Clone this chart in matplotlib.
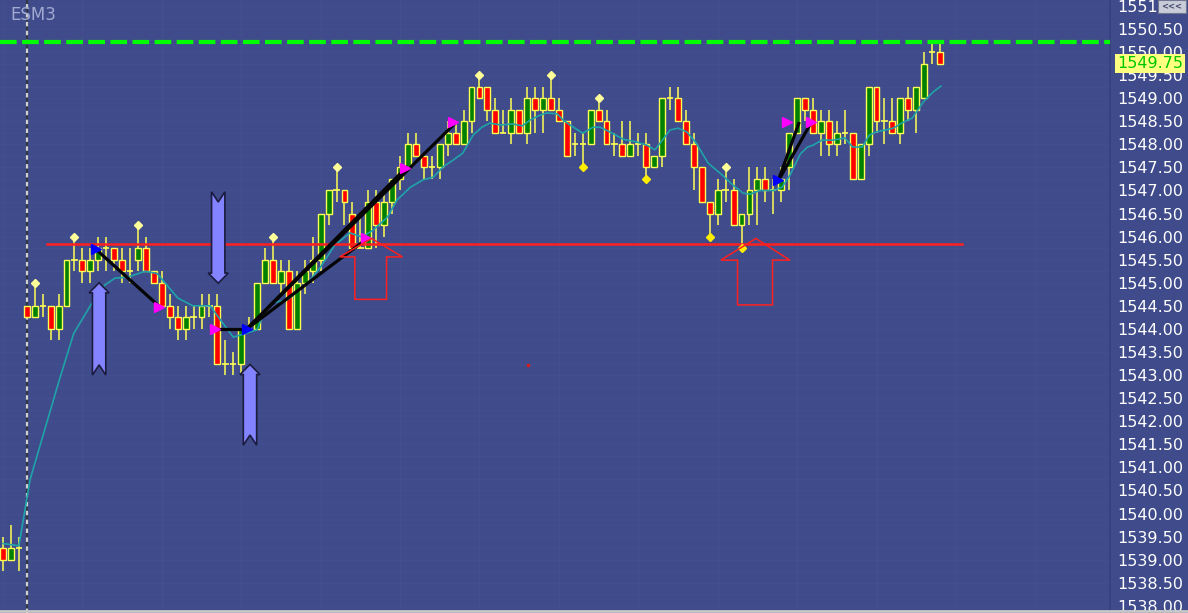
import matplotlib
matplotlib.use('Agg')
import numpy as np
from matplotlib import pyplot as plt
from matplotlib.patches import Polygon, Rectangle
from matplotlib.lines import Line2D

# ---- candle data (ESM3, one bar per slot) ----
opens = [
    1539.25, 1539.0, 1539.25, 1544.5, 1544.25, 1544.5, 1544.5, 1544.0, 1544.5, 1545.5,
    1545.5, 1545.25, 1545.5, 1545.75, 1545.75, 1545.5, 1545.25, 1545.5, 1545.75, 1545.25,
    1545.0, 1544.5, 1544.25, 1544.0, 1544.25, 1544.25, 1544.5, 1544.5, 1543.25, 1543.25,
    1543.25, 1544.0, 1544.0, 1545.0, 1545.5, 1545.0, 1545.25, 1544.0, 1545.0, 1545.25,
    1545.5, 1546.5, 1547.0, 1547.0, 1546.5, 1545.75, 1545.75, 1546.75, 1546.25, 1546.75,
    1547.25, 1547.5, 1548.0, 1547.75, 1547.5, 1547.5, 1548.0, 1548.25, 1548.0, 1548.5,
    1549.25, 1549.25, 1548.75, 1548.25, 1548.25, 1548.75, 1548.25, 1549.0, 1548.75, 1549.0,
    1548.75, 1548.5, 1548.0, 1548.0, 1548.0, 1548.75, 1548.5, 1548.0, 1548.0, 1547.75,
    1548.0, 1548.0, 1547.5, 1547.75, 1549.0, 1549.0, 1548.5, 1548.0, 1547.5, 1546.75,
    1546.5, 1547.0, 1547.0, 1546.25, 1546.5, 1547.0, 1547.25, 1547.0, 1547.0, 1547.5,
    1548.25, 1549.0, 1548.75, 1548.25, 1548.5, 1548.0, 1548.25, 1548.25, 1547.25, 1548.0,
    1549.25, 1548.5, 1548.5, 1548.25, 1549.0, 1548.75, 1549.0, 1550.0, 1550.0]
closes = [
    1539.0, 1539.25, 1539.25, 1544.25, 1544.5, 1544.5, 1544.0, 1544.5, 1545.5, 1545.5,
    1545.25, 1545.5, 1545.75, 1545.75, 1545.5, 1545.25, 1545.25, 1545.75, 1545.25, 1545.0,
    1544.5, 1544.25, 1544.0, 1544.25, 1544.25, 1544.5, 1544.5, 1543.25, 1543.25, 1543.25,
    1544.0, 1544.0, 1545.0, 1545.5, 1545.0, 1545.25, 1544.0, 1545.0, 1545.25, 1545.5,
    1546.5, 1547.0, 1547.0, 1546.75, 1545.75, 1545.75, 1546.75, 1546.25, 1546.75, 1547.25,
    1547.5, 1548.0, 1547.75, 1547.5, 1547.5, 1548.0, 1548.25, 1548.0, 1548.5, 1549.25,
    1549.0, 1548.75, 1548.25, 1548.25, 1548.75, 1548.25, 1549.0, 1548.75, 1549.0, 1548.75,
    1548.5, 1547.75, 1548.0, 1548.0, 1548.75, 1548.5, 1548.0, 1548.0, 1547.75, 1548.0,
    1548.0, 1547.5, 1547.75, 1549.0, 1549.0, 1548.5, 1548.0, 1547.5, 1546.75, 1546.5,
    1547.0, 1547.0, 1546.25, 1546.5, 1547.0, 1547.25, 1547.0, 1547.0, 1547.25, 1548.25,
    1549.0, 1548.75, 1548.25, 1548.5, 1548.0, 1548.25, 1548.25, 1547.25, 1548.0, 1549.25,
    1548.5, 1548.5, 1548.25, 1549.0, 1548.75, 1549.25, 1549.75, 1550.0, 1549.75]
highs = [
    1539.5, 1539.75, 1539.5, 1544.5, 1545.0, 1544.75, 1544.5, 1544.75, 1545.5, 1546.0,
    1545.75, 1545.75, 1546.0, 1546.0, 1545.75, 1545.75, 1545.75, 1546.25, 1546.0, 1545.25,
    1545.25, 1544.75, 1544.5, 1544.5, 1544.5, 1544.75, 1544.75, 1544.75, 1543.75, 1543.5,
    1544.0, 1544.25, 1545.0, 1545.75, 1546.0, 1545.5, 1545.5, 1545.25, 1545.5, 1546.0,
    1546.5, 1547.0, 1547.5, 1547.0, 1546.75, 1546.5, 1547.0, 1547.0, 1547.0, 1547.25,
    1547.75, 1548.25, 1548.25, 1547.75, 1547.75, 1548.0, 1548.5, 1548.5, 1548.75, 1549.25,
    1549.5, 1549.25, 1549.0, 1548.75, 1549.0, 1548.75, 1549.25, 1549.25, 1549.25, 1549.5,
    1549.0, 1548.5, 1548.25, 1548.25, 1548.75, 1549.0, 1548.75, 1548.25, 1548.5, 1548.5,
    1548.25, 1548.25, 1547.75, 1549.0, 1549.25, 1549.25, 1548.75, 1548.25, 1547.5, 1546.75,
    1547.25, 1547.5, 1547.25, 1546.5, 1547.5, 1547.5, 1547.5, 1547.25, 1547.5, 1548.25,
    1549.0, 1549.0, 1549.0, 1548.75, 1548.75, 1548.5, 1548.75, 1548.25, 1548.0, 1549.25,
    1549.25, 1549.0, 1549.0, 1549.0, 1549.25, 1549.25, 1550.0, 1550.25, 1550.25]
lows = [
    1538.75, 1539.0, 1538.75, 1544.25, 1544.25, 1544.25, 1543.75, 1543.75, 1544.5, 1545.25,
    1545.0, 1545.0, 1545.25, 1545.25, 1545.25, 1545.0, 1545.0, 1545.25, 1545.25, 1545.0,
    1544.5, 1544.0, 1543.75, 1543.75, 1544.0, 1544.0, 1544.25, 1543.25, 1543.0, 1543.0,
    1543.0, 1544.0, 1544.0, 1545.0, 1545.0, 1544.75, 1544.0, 1544.0, 1544.75, 1545.0,
    1545.25, 1546.25, 1546.75, 1546.25, 1545.75, 1545.75, 1545.75, 1545.75, 1546.0, 1546.5,
    1547.0, 1547.5, 1547.75, 1547.25, 1547.25, 1547.25, 1547.75, 1548.0, 1548.0, 1548.25,
    1549.0, 1548.5, 1548.25, 1548.25, 1548.0, 1548.25, 1548.0, 1548.25, 1548.25, 1548.75,
    1548.5, 1547.75, 1547.75, 1547.5, 1548.0, 1548.5, 1548.0, 1547.75, 1547.75, 1547.75,
    1547.75, 1547.25, 1547.5, 1547.5, 1548.75, 1548.5, 1548.0, 1547.0, 1546.75, 1546.0,
    1546.25, 1546.75, 1546.25, 1545.75, 1546.25, 1546.25, 1546.75, 1546.5, 1546.75, 1547.0,
    1548.25, 1548.5, 1548.25, 1547.75, 1547.75, 1547.75, 1548.0, 1547.25, 1547.25, 1547.75,
    1548.25, 1548.0, 1548.25, 1548.0, 1548.5, 1548.25, 1549.0, 1549.75, 1549.75]

# moving average (bar slot, price)
ma_x = [0, 2, 3.4, 7.1, 8.9, 11.2, 12.8, 14.1, 15.7, 17.9, 19.4, 20.2, 22, 23.9, 26.1,
        27.1, 29, 30.7, 32, 33, 34.3, 35.8, 37, 38.4, 39.9, 41.8, 43.7, 45.2, 46.6, 48.4,
        49.6, 51.3, 52.9, 54.2, 55.4, 56.7, 57.9, 59.2, 60.3, 61.3, 62.6, 64.2, 65.4, 66.4,
        67.6, 68.5, 69.8, 70.5, 71.4, 73, 74.3, 75.2, 76.4, 78.1, 79.8, 81.1, 82.1, 84, 85,
        86.1, 87.2, 88.8, 90.6, 91.9, 93.2, 94.1, 95.3, 97, 98.1, 99.1, 100.4, 101.3, 102,
        103.1, 104.5, 106, 107, 108.2, 109.1, 110, 111.1, 112.1, 113.4, 114.5, 115.9, 117.1,
        118.1]
ma_y = [1539.35, 1539.3, 1540.73, 1542.9, 1543.9, 1544.56, 1544.95, 1545.1, 1545.12,
        1545.25, 1545.2, 1545.04, 1544.67, 1544.5, 1544.5, 1544.26, 1543.82, 1543.91,
        1543.98, 1544.43, 1544.58, 1544.63, 1544.8, 1545.0, 1545.32, 1545.82, 1546.08,
        1545.99, 1546.14, 1546.42, 1546.79, 1547.07, 1547.23, 1547.29, 1547.51, 1547.66,
        1547.81, 1548.2, 1548.37, 1548.46, 1548.42, 1548.44, 1548.4, 1548.53, 1548.63,
        1548.68, 1548.66, 1548.53, 1548.42, 1548.24, 1548.37, 1548.37, 1548.27, 1548.11,
        1548.05, 1547.98, 1547.88, 1548.31, 1548.35, 1548.27, 1548.05, 1547.59, 1547.33,
        1547.12, 1546.94, 1546.92, 1547.0, 1547.0, 1547.07, 1547.33, 1547.79, 1547.94,
        1547.98, 1548.09, 1548.09, 1548.14, 1547.94, 1547.94, 1548.2, 1548.27, 1548.31,
        1548.35, 1548.48, 1548.57, 1548.92, 1549.13, 1549.26]

# swing markers
top_dots = [4, 9, 17, 34, 42, 60, 69, 75, 91]
bottom_dots = [73, 81, 89, 93]

# drawn trend lines: (x0, y0, x1, y1)
trend_lines = [
    (11.67, 1545.73, 19.6, 1544.5),
    (26.7, 1544.0, 30.7, 1544.0),
    (30.7, 1544.0, 56.9, 1548.45),
    (30.7, 1544.0, 50.8, 1547.5),
    (30.7, 1544.0, 45.8, 1545.95),
    (97.6, 1547.2, 100.2, 1548.45),
    (97.6, 1547.2, 101.7, 1548.45),
]
blue_marks_x = [11.67, 30.7, 97.6]
blue_marks_y = [1545.73, 1543.99, 1547.23]
pink_marks_x = [19.69, 26.7, 45.7, 50.6, 56.7, 98.7, 101.8]
pink_marks_y = [1544.48, 1543.99, 1545.97, 1547.49, 1548.49, 1548.48, 1548.48]

# big blue arrows: (x, tip, tail)
blue_arrows = [(12.1, 1545.0, 1543.0), (27.1, 1544.99, 1546.97), (31.1, 1543.23, 1541.48)]
# red outline arrows: (tip x, tip y, base y, left, right, shaft left, shaft right, bottom)
red_arrows = [(46.4, 1545.96, 1545.56, 42.4, 50.3, 44.3, 48.3, 1544.64),
              (94.8, 1545.96, 1545.49, 90.4, 99.1, 92.5, 96.9, 1544.52)]

target_level = 1550.22
support_level = 1545.84
last_price = 1549.75
session_break = 2.97

bg = '#3f4b8b'
wick_c = '#ffff55'

fig = plt.figure(figsize=(11.88, 6.13), dpi=100)
fig.patch.set_facecolor(bg)
ax = fig.add_axes([0, 0, 1110 / 1188, 1])
ax.set_facecolor(bg)
ax.set_xlim(-0.38, 139.4)
ax.set_ylim(1537.844, 1551.127)

# faint grid
for p in np.arange(1538, 1551.25, 0.25):
    ax.axhline(p, color='#43508f', lw=0.6, zorder=0)
for gx in range(0, 140, 10):
    ax.axvline(gx, color='#45518f', lw=0.7, zorder=0)

# session divider
ax.axvline(session_break, color='#303848', lw=1.6, zorder=1)
ax.axvline(session_break, color='#d0d0d0', lw=1.6, dashes=(2, 2), zorder=1)

# candles
idx = np.arange(len(opens))
o = np.array(opens)
c = np.array(closes)
ax.vlines(idx, lows, highs, color=wick_c, lw=1.1, zorder=2)
up = c > o
dn = c < o
dj = c == o
ax.bar(idx[up], (c - o)[up], bottom=o[up], width=0.74, color='#008000',
       edgecolor=wick_c, linewidth=1.0, zorder=3)
ax.bar(idx[dn], (o - c)[dn], bottom=c[dn], width=0.74, color='#ff0000',
       edgecolor=wick_c, linewidth=1.0, zorder=3)
ax.hlines(c[dj], idx[dj] - 0.4, idx[dj] + 0.4, color=wick_c, lw=1.2, zorder=3)

# moving average
ax.plot(ma_x, ma_y, color='#1fa3a8', lw=1.2, zorder=4)

# levels
ax.axhline(target_level, color='#00ff00', lw=3, dashes=(4, 1.3), zorder=5)
ax.plot([5.54, 120.8], [support_level] * 2, color='#ff2020', lw=1.8, zorder=5)

# swing dots
ax.plot(top_dots, [highs[i] for i in top_dots], 'D', color='#ffff99', ms=4.5,
        mec='#ffff99', zorder=6)
ax.plot(bottom_dots, [lows[i] for i in bottom_dots], 'D', color='#ffee00', ms=4.5,
        mec='#ffee00', zorder=6)

# trend lines and markers
for x0, y0, x1, y1 in trend_lines:
    ax.plot([x0, x1], [y0, y1], color='#050505', lw=2.3, zorder=7)
ax.plot(blue_marks_x, blue_marks_y, '>', color='#0000ff', ms=7, zorder=8)
ax.plot(pink_marks_x, pink_marks_y, '>', color='#ff00ff', ms=7, zorder=8)

# arrows
hw, sw, hl, nt = 1.26, 0.84, 0.22, 0.22
for x, tip, tail in blue_arrows:
    s = 1 if tip > tail else -1
    pts = [(x, tip), (x + hw, tip - s * hl), (x + sw, tip - s * hl), (x + sw, tail),
           (x, tail + s * nt), (x - sw, tail), (x - sw, tip - s * hl), (x - hw, tip - s * hl)]
    ax.add_patch(Polygon(pts, closed=True, facecolor='#8383ff', edgecolor='#1c1c40',
                         lw=1.2, zorder=9))
for tx, ty, by, lx, rx, slx, srx, bot in red_arrows:
    pts = [(tx, ty), (rx, by), (srx, by), (srx, bot), (slx, bot), (slx, by), (lx, by)]
    ax.add_patch(Polygon(pts, closed=True, fill=False, edgecolor='#ff2020', lw=1.1, zorder=9))

ax.plot([66.1], [1543.22], 's', color='#d02020', ms=1.5, zorder=6)

# price scale on the right
ax.yaxis.tick_right()
ticks = np.arange(1538, 1551.5, 0.5)
ax.set_yticks(ticks)
ax.set_yticklabels(['%.2f' % t for t in ticks], color='white', fontsize=11.5,
                   family='DejaVu Sans')
ax.tick_params(axis='y', length=0, pad=5)
ax.set_xticks([])
for side in ['top', 'left', 'bottom']:
    ax.spines[side].set_visible(False)
ax.spines['right'].set_color('#36427e')
ax.spines['right'].set_linewidth(1.2)

ax.annotate('%.2f' % last_price, xy=(1.0, last_price), xycoords=('axes fraction', 'data'),
            xytext=(5, 0), textcoords='offset points', ha='left', va='center',
            color='#00c800', fontsize=11.5, family='DejaVu Sans',
            bbox=dict(boxstyle='square,pad=0.12', facecolor='#ffff80', edgecolor='none'),
            annotation_clip=False, zorder=10)

ax.text(10 / 1110, 1 - 15 / 613, 'ESM3', transform=ax.transAxes, color='#a2aad2',
        fontsize=12, ha='left', va='center', family='DejaVu Sans')

# small scroll button and bottom bar
fig.add_artist(Rectangle((1158 / 1188, 1 - 13 / 613), 28 / 1188, 13 / 613,
                         transform=fig.transFigure, facecolor='#c8ccd8',
                         edgecolor='#707890', lw=0.8))
fig.text(1172 / 1188, 1 - 6.5 / 613, '<<<', color='#404868', fontsize=6,
         ha='center', va='center', fontweight='bold')
fig.add_artist(Line2D([0, 1], [1 - 611 / 613] * 2, transform=fig.transFigure,
                      color='#c8c8c8', lw=2))

plt.savefig('out.png', dpi=100, facecolor=bg)
